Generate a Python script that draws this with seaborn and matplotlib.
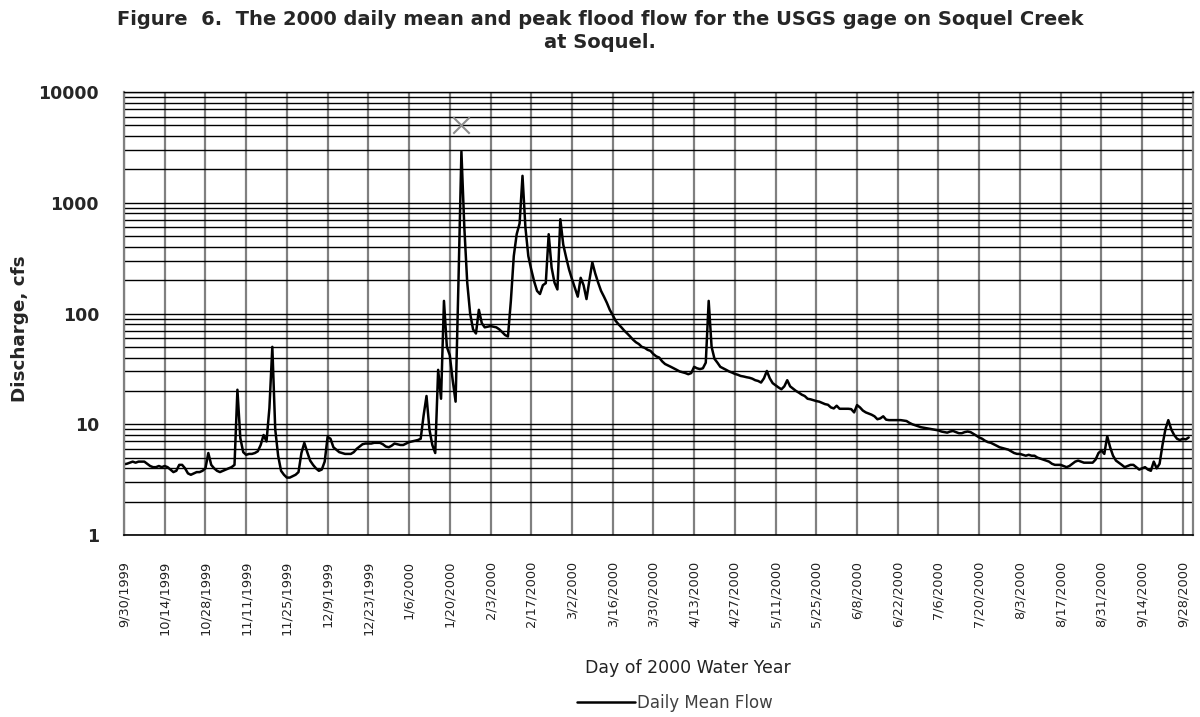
import matplotlib
matplotlib.use('Agg')
import numpy as np
import pandas as pd
import matplotlib.pyplot as plt
import matplotlib.dates as mdates
import seaborn as sns
from matplotlib.ticker import FixedLocator, LogLocator, NullFormatter

# Daily mean flow (cfs), one value per day starting 9/30/1999
start_date = '1999-09-30'
flow = [4.35,
    4.4, 4.5, 4.6, 4.5, 4.6, 4.6, 4.6, 4.4, 4.2, 4.1, 4.1, 4.2, 4.1, 4.2,
    4.1, 3.9, 3.7, 3.8, 4.3, 4.3, 4.0, 3.6, 3.5, 3.6, 3.7, 3.7, 3.8, 4.0,
    5.5, 4.3, 4.0, 3.8, 3.7, 3.8, 3.9, 4.0, 4.1, 4.3, 20.5, 7.5, 5.6, 5.3,
    5.4, 5.4, 5.5, 5.7, 6.5, 8.0, 7.0, 14, 50, 9.0, 5.2, 3.8, 3.5, 3.3,
    3.3, 3.4, 3.5, 3.7, 5.5, 6.8, 5.6, 4.7, 4.3, 4.0, 3.8, 3.9, 4.6, 7.7,
    7.4, 6.2, 5.9, 5.6, 5.5, 5.4, 5.4, 5.4, 5.6, 6.0, 6.3, 6.6, 6.7, 6.7,
    6.7, 6.8, 6.8, 6.8, 6.6, 6.3, 6.2, 6.4, 6.7, 6.6, 6.5, 6.5, 6.7, 6.9,
    7.0, 7.1, 7.2, 7.4, 12, 18, 9.0, 6.5, 5.5, 31, 17, 130, 50, 42,
    25, 16, 200, 2900, 600, 190, 100, 72, 66, 108, 82, 75, 76, 77,
    76, 75, 72, 68, 64, 62, 130, 330, 520, 650, 1750, 600, 330, 250,
    195, 160, 150, 180, 188, 520, 260, 190, 165, 710, 420, 321, 250, 205,
    170, 142, 210, 180, 135, 200, 290, 230, 190, 160, 142, 125, 108, 97,
    86, 80, 75, 70, 66, 62, 58, 55, 53, 50, 49, 47, 46, 43,
    41, 40, 37, 35, 34, 33, 32, 31, 30, 29.5, 29, 28.3, 29, 33,
    32, 31.5, 32, 36, 130, 50, 39, 36, 33, 32, 31, 30, 29.3, 28.5,
    28, 27.3, 27, 26.6, 26.3, 25.8, 25, 24.6, 23.8, 26, 30.3, 26, 23.5, 22.5,
    21.5, 20.7, 22, 25, 22, 21, 20, 19.3, 18.5, 18, 17, 16.8, 16.5, 16.2,
    16, 15.6, 15.2, 15, 14.2, 13.9, 14.7, 13.8, 13.8, 13.8, 13.8, 13.7, 12.8, 14.9,
    14.2, 13.3, 12.8, 12.5, 12.2, 11.8, 11.1, 11.3, 11.8, 11.0, 10.9, 10.9, 10.9, 10.9,
    10.9, 10.8, 10.7, 10.3, 10.0, 9.8, 9.6, 9.4, 9.3, 9.2, 9.1, 9.0, 8.9, 8.8,
    8.6, 8.5, 8.4, 8.6, 8.7, 8.5, 8.3, 8.3, 8.5, 8.6, 8.5, 8.2, 7.9, 7.6,
    7.4, 7.1, 6.9, 6.8, 6.6, 6.4, 6.2, 6.1, 6.0, 5.9, 5.7, 5.5, 5.4, 5.4,
    5.3, 5.2, 5.3, 5.2, 5.2, 5.0, 4.9, 4.8, 4.7, 4.6, 4.4, 4.3, 4.3, 4.3,
    4.2, 4.1, 4.2, 4.4, 4.6, 4.7, 4.6, 4.5, 4.5, 4.5, 4.5, 4.8, 5.5, 5.8,
    5.4, 7.8, 6.2, 5.2, 4.7, 4.5, 4.3, 4.1, 4.2, 4.3, 4.3, 4.1, 3.9, 4.0,
    4.1, 3.9, 3.8, 4.6, 4.0, 4.4, 6.5, 9.0, 10.9, 9.0, 8.0, 7.4, 7.2, 7.4,
    7.3, 7.6]

# Peak flood flow
peak_date = ['2000-01-24']
peak_flow = [5000]

# x axis
axis_start = '1999-09-30'
axis_end = '2000-10-01 12:00'
tick_dates = pd.date_range('1999-09-30', '2000-09-28', freq='14D')
tick_labels = [f'{d.month}/{d.day}/{d.year}' for d in tick_dates]

# y axis
y_ticks = [1, 10, 100, 1000, 10000]
y_labels = ['1', '10', '100', '1000', '10000']

df = pd.DataFrame({'date': pd.date_range(start_date, periods=len(flow), freq='D'),
                   'flow': flow})

sns.set_style('white')
plt.rcParams['font.family'] = ['DejaVu Sans']

fig, ax = plt.subplots(figsize=(12, 7.17), dpi=100)
fig.subplots_adjust(left=0.1033, right=0.9942, top=0.8717, bottom=0.2538)

sns.lineplot(data=df, x='date', y='flow', ax=ax, color='black', lw=1.8,
             legend=False)
sns.scatterplot(x=pd.to_datetime(peak_date), y=peak_flow, ax=ax, marker='x',
                color='#8c8c8c', s=140, linewidth=1.5, zorder=5)

ax.set_yscale('log')
ax.set_ylim(1, 10000)
ax.set_xlim(pd.Timestamp(axis_start), pd.Timestamp(axis_end))

ax.yaxis.set_major_locator(FixedLocator(y_ticks))
ax.yaxis.set_minor_locator(LogLocator(base=10, subs=np.arange(2, 10), numticks=20))
ax.yaxis.set_minor_formatter(NullFormatter())
ax.set_yticklabels(y_labels, fontweight='bold', fontsize=12.5)

ax.xaxis.set_major_locator(FixedLocator(mdates.date2num(tick_dates)))
ax.set_xticklabels(tick_labels, rotation=90, fontsize=9.3, color='#222222')
ax.xaxis.set_minor_locator(mdates.DayLocator(interval=2))

ax.set_axisbelow(True)
ax.grid(which='both', axis='y', color='black', lw=1.0)
ax.grid(which='major', axis='x', color='#808080', lw=1.6)

ax.tick_params(axis='y', which='major', length=7, width=1, color='#444444',
               direction='out', pad=11)
ax.tick_params(axis='y', which='minor', length=0)
ax.tick_params(axis='x', which='major', length=9, width=1, color='#444444',
               direction='inout', pad=14)
ax.tick_params(axis='x', which='minor', length=7, width=0.8, color='#444444',
               direction='inout')

for side in ['left', 'right']:
    ax.spines[side].set_color('#808080')
    ax.spines[side].set_linewidth(1.6)
ax.spines['top'].set_color('black')
ax.spines['top'].set_linewidth(1.0)
ax.spines['bottom'].set_color('black')
ax.spines['bottom'].set_linewidth(1.2)

ax.set_xlabel('')
ax.set_ylabel('')

fig.text(0.5, 1 - 10 / 717,
         'Figure  6.  The 2000 daily mean and peak flood flow for the USGS gage on Soquel Creek\nat Soquel.',
         ha='center', va='top', fontsize=14, fontweight='bold', linespacing=1.3)
fig.text(20 / 1200, 1 - 329 / 717, 'Discharge, cfs', rotation=90, ha='center',
         va='center', fontsize=13.2, fontweight='bold')
fig.text(688 / 1200, 1 - 668 / 717, 'Day of 2000 Water Year', ha='center',
         va='center', fontsize=12.5, color='#222222')

fig.legend(handles=[ax.lines[0]], labels=['Daily Mean Flow'], loc='center',
           bbox_to_anchor=(675 / 1200, 1 - 703 / 717), frameon=False,
           handlelength=3.5, handletextpad=0.1, fontsize=12,
           labelcolor='#404040')

fig.savefig('out.png', dpi=100)
